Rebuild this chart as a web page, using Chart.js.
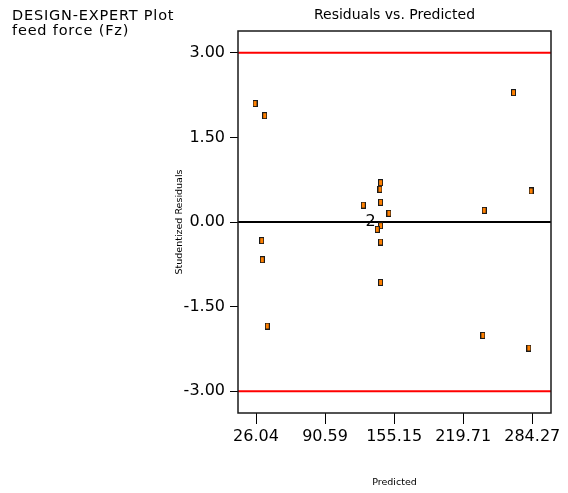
<!DOCTYPE html>
<html>
<head>
<meta charset="utf-8">
<script src="https://cdn.jsdelivr.net/npm/chart.js@4.4.1/dist/chart.umd.min.js"></script>
<style>
html,body{margin:0;padding:0;background:#fff;}
#wrap{position:absolute;left:0;top:0;width:568px;height:493px;}
</style>
</head>
<body>
<div id="wrap"><canvas id="c" width="568" height="493"></canvas></div>
<script>
// ---- data ----
const predicted = [25.1, 34.2, 31.4, 31.9, 36.6, 266.8, 283.2, 142.5, 141.9, 126.3, 142.5, 150.3, 239.3, 142.5, 139.4, 142.5, 142.5, 238.1, 281.1];
const residuals = [2.10, 1.885, -0.33, -0.668, -1.844, 2.293, 0.55, 0.697, 0.58, 0.30, 0.35, 0.154, 0.207, -0.065, -0.13, -0.355, -1.07, -2.01, -2.234];
const countLabels = [{index: 13, text: "2"}];
const xTicks = [26.04, 90.59, 155.15, 219.71, 284.27];
const yTicks = [-3.00, -1.50, 0.00, 1.50, 3.00];
const xLimits = [9.2, 301.8];
const yLimits = [-3.385, 3.385];
const limitLines = [3, -3];
const zeroLine = 0;
const headerLines = ["DESIGN-EXPERT Plot", "feed force (Fz)"];
const titleText = "Residuals vs. Predicted";
const xTitle = "Predicted";
const yTitle = "Studentized Residuals";

const FONT = "'DejaVu Sans', sans-serif";

// marker image (small tall rectangle)
const mk = document.createElement('canvas');
mk.width = 5; mk.height = 7;
(function(){
  const g = mk.getContext('2d');
  g.fillStyle = '#1a1a1a'; g.fillRect(0,0,5,7);
  g.fillStyle = '#ff8000'; g.fillRect(1,1,3,5);
})();

const points = predicted.map((x,i)=>({x:x, y:residuals[i]}));
const hLine = v => [{x:xLimits[0], y:v},{x:xLimits[1], y:v}];

const textPlugin = {
  id: 'texts',
  afterDraw(chart){
    const ctx = chart.ctx, a = chart.chartArea;
    const xs = chart.scales.x, ys = chart.scales.y;
    ctx.save();
    // frame
    ctx.strokeStyle = '#1a1a1a'; ctx.lineWidth = 1.5;
    ctx.strokeRect(a.left, a.top, a.right - a.left, a.bottom - a.top);
    ctx.fillStyle = '#000';
    // header
    ctx.font = "14.5px " + FONT;
    ctx.textAlign = 'left'; ctx.textBaseline = 'alphabetic';
    if ('letterSpacing' in ctx) ctx.letterSpacing = '0.8px';
    ctx.fillText(headerLines[0], 12, 20);
    ctx.fillText(headerLines[1], 12, 35);
    if ('letterSpacing' in ctx) ctx.letterSpacing = '0px';
    // title
    ctx.font = "14px " + FONT;
    ctx.textAlign = 'center';
    ctx.fillText(titleText, (a.left + a.right)/2, 18.5);
    // x title
    ctx.font = "9.5px " + FONT;
    ctx.textBaseline = 'middle';
    ctx.fillText(xTitle, (a.left + a.right)/2, 483);
    // y title
    ctx.save();
    ctx.translate(180, (a.top + a.bottom)/2);
    ctx.rotate(-Math.PI/2);
    ctx.fillText(yTitle, 0, 0);
    ctx.restore();
    // count labels
    ctx.font = "16px " + FONT;
    countLabels.forEach(l=>{
      const px = xs.getPixelForValue(predicted[l.index]);
      const py = ys.getPixelForValue(residuals[l.index]);
      ctx.fillText(l.text, px - 10, py - 4);
    });
    ctx.restore();
  }
};

new Chart(document.getElementById('c'), {
  type: 'scatter',
  data: {
    datasets: [
      {type:'scatter', data: points, pointStyle: mk, pointRadius: 4, order: 0},
      {type:'line', data: hLine(limitLines[0]), borderColor:'#ff0000', borderWidth:2, pointRadius:0, order: 2},
      {type:'line', data: hLine(limitLines[1]), borderColor:'#ff0000', borderWidth:2, pointRadius:0, order: 2},
      {type:'line', data: hLine(zeroLine), borderColor:'#000000', borderWidth:2, pointRadius:0, order: 1}
    ]
  },
  options: {
    responsive: false,
    animation: false,
    events: [],
    layout: {padding: {left: 0, top: 31, right: 17, bottom: 0}},
    plugins: {legend:{display:false}, tooltip:{enabled:false}, title:{display:false}},
    scales: {
      x: {
        type: 'linear', min: xLimits[0], max: xLimits[1],
        afterBuildTicks: s => { s.ticks = xTicks.map(v=>({value:v})); },
        afterFit: s => { s.height = 80; },
        grid: {drawOnChartArea:false, drawTicks:true, tickLength:11, color:'#000', lineWidth:1},
        border: {display:false},
        ticks: {color:'#000', font:{family:FONT, size:16}, padding:3, maxRotation:0, autoSkip:false,
                callback: v => Number(v).toFixed(2)}
      },
      y: {
        type: 'linear', min: yLimits[0], max: yLimits[1],
        afterBuildTicks: s => { s.ticks = yTicks.map(v=>({value:v})); },
        afterFit: s => { s.width = 238; },
        grid: {drawOnChartArea:false, drawTicks:true, tickLength:8, color:'#000', lineWidth:1},
        border: {display:false},
        ticks: {color:'#000', font:{family:FONT, size:16}, padding:5, autoSkip:false,
                callback: v => Number(v).toFixed(2)}
      }
    }
  },
  plugins: [textPlugin]
});
</script>
</body>
</html>
